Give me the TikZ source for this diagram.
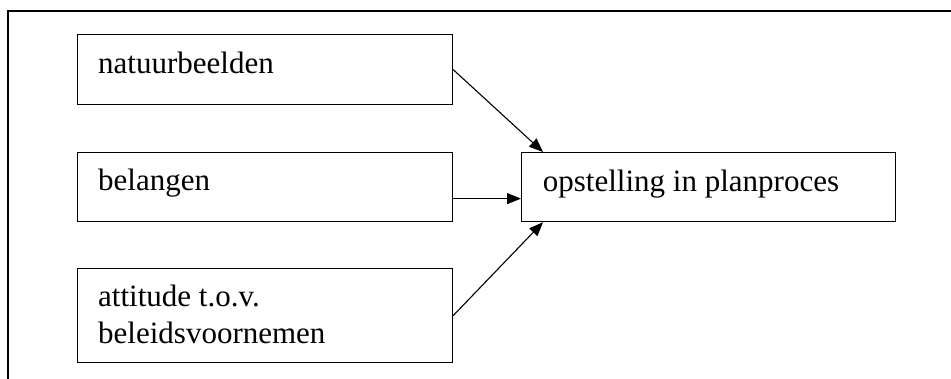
\documentclass[tikz,border=0pt]{standalone}
\usepackage{fontspec}
\setmainfont{Liberation Serif}
\usetikzlibrary{arrows.meta,calc}
\tikzset{
  box/.style={draw, line width=1.2pt, inner sep=0pt, minimum width=375pt, anchor=north west},
  lbl/.style={inner sep=0pt, anchor=base west, align=left, font=\fontsize{31}{36.7}\selectfont},
  conn/.style={line width=1.1pt, -{Triangle[length=14pt,width=11pt]}},
  frame/.style={line width=2pt}
}
\begin{document}
\begin{tikzpicture}[x=1pt,y=-1pt]
\useasboundingbox (0,0) rectangle (951,379);
% outer frame (open at right and bottom)
\draw[frame] (8,379) -- (8,11) -- (951,11);
% boxes
\node[box, minimum height=70pt] (n1) at (77,34) {};
\node[box, minimum height=69pt] (n2) at (77,152) {};
\node[box, minimum height=94pt] (n3) at (77,268) {};
\node[box, minimum width=374pt, minimum height=69pt] (t) at (521,152) {};
% labels
\node[lbl] (l1) at (98,74) {natuurbeelden};
\node[lbl] (l2) at (98,190.7) {belangen};
\node[lbl] (l3) at (98,343.3) {attitude t.o.v.\\beleidsvoornemen};
\node[lbl] (lt) at (542.7,191.5) {opstelling in planproces};
% connectors
\coordinate (e1) at ($(t.north west)+(22,0)$);
\coordinate (s2) at ($(n2.east)+(0,11.5)$);
\coordinate (e3) at ($(t.south west)+(22,0)$);
\draw[conn] (n1.east) -- (e1);
\draw[conn] (s2) -- (t.west |- s2);
\draw[conn] (n3.east) -- (e3);
\end{tikzpicture}
\end{document}
